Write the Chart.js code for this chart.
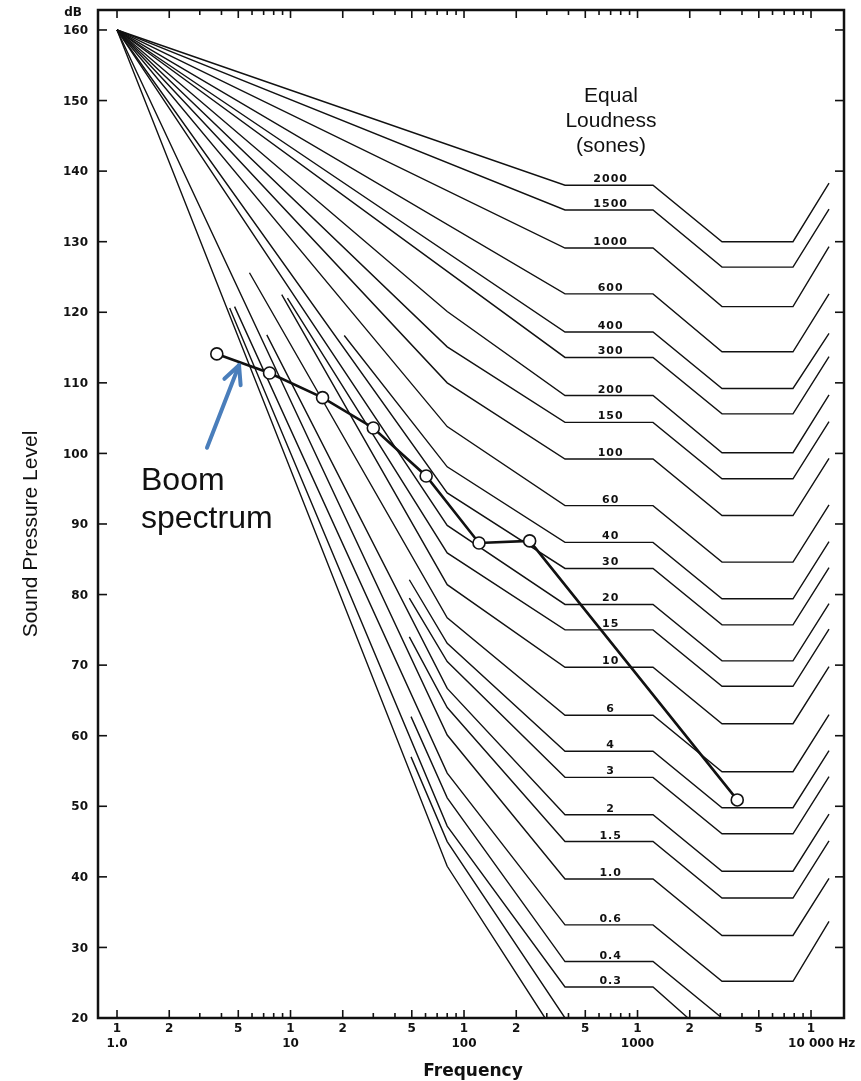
<!DOCTYPE html>
<html>
<head>
<meta charset="utf-8">
<script src="https://cdn.jsdelivr.net/npm/chart.js@4.4.1/dist/chart.umd.min.js"></script>
<style>
  body { margin: 0; background: #fff; }
  canvas { display: block; }
</style>
</head>
<body>
<canvas id="chart" width="861" height="1081"></canvas>
<script>
// equal loudness contours (dB at each break point)
var sones   = ['2000','1500','1000','600','400','300','200','150','100','60','40','30','20','15','10','6','4','3','2','1.5','1.0','0.6','0.4','0.3','',''];
var startHz = [1,1,1,1,1,1,1,1,1,1,20.4,1,1,9.6,8.9,5.8,48.4,48.4,7.3,48.4,1,4.76,49.5,4.46,49.5,1];
var startDb = [160,160,160,160,160,160,160,160,160,160,116.7,160,160,122.0,122.5,125.6,82.1,79.5,116.8,74.0,160,120.8,62.7,120.6,57.0,160];
var kinkDb  = [null,null,null,null,null,null,120.1,115.1,110.0,103.8,98.1,94.4,89.8,85.9,81.4,76.7,73.1,70.5,66.7,64.0,60.1,54.7,51.2,47.2,45.0,41.5];
var flatDb  = [138.0,134.5,129.1,122.6,117.2,113.6,108.2,104.4,99.2,92.6,87.4,83.7,78.6,75.0,69.7,62.9,57.8,54.1,48.8,45.0,39.7,33.2,28.0,24.4,null,null];
var dipDb   = [130.0,126.4,120.8,114.4,109.2,105.6,100.1,96.4,91.2,84.6,79.4,75.7,70.6,67.0,61.7,54.9,49.8,46.1,40.8,37.0,31.7,25.2,null,null,null,null];
var endDb   = [138.3,134.6,129.3,122.6,117.0,113.7,108.3,104.5,99.3,92.7,87.5,83.8,78.7,75.1,69.8,63.0,57.9,54.2,48.9,45.1,39.8,33.7,null,null,null,null];
// where the lowest lines run into the 20 dB floor
var floorHz = [null,null,null,null,null,null,null,null,null,null,null,null,null,null,null,null,null,null,null,null,null,null,3069,1954,382,293];
// break frequencies shared by all contours
var bendHz  = [80, 382, 1228, 3069, 7870, 12700];

// sonic boom spectrum
var boomHz = [3.76, 7.57, 15.3, 30.0, 60.5, 122, 239, 3756];
var boomDb = [114.1, 111.4, 107.9, 103.6, 96.8, 87.3, 87.6, 50.9];

// axes
var yTicks = [20,30,40,50,60,70,80,90,100,110,120,130,140,150,160];
var xMajorHz = [1,2,5,10,20,50,100,200,500,1000,2000,5000,10000];
var xMajorText = ['1','2','5','1','2','5','1','2','5','1','2','5','1'];
var xMinorHz = [3,4,6,7,8,9,30,40,60,70,80,90,300,400,600,700,800,900,3000,4000,6000,7000,8000,9000];
var decadeHz = [1,10,100,1000,10000];
var decadeText = ['1.0','10','100','1000','10 000'];

var ink = '#111';

function contour(i) {
  var pts = [{x: startHz[i], y: startDb[i]}];
  if (kinkDb[i] !== null) pts.push({x: bendHz[0], y: kinkDb[i]});
  if (flatDb[i] !== null) {
    pts.push({x: bendHz[1], y: flatDb[i]});
    pts.push({x: bendHz[2], y: flatDb[i]});
  }
  if (dipDb[i] !== null) {
    pts.push({x: bendHz[3], y: dipDb[i]});
    pts.push({x: bendHz[4], y: dipDb[i]});
    pts.push({x: bendHz[5], y: endDb[i]});
  }
  if (floorHz[i] !== null) pts.push({x: floorHz[i], y: 20});
  return pts;
}

var datasets = [];
for (var i = 0; i < sones.length; i++) {
  datasets.push({
    data: contour(i),
    showLine: true,
    borderColor: ink,
    borderWidth: 1.4,
    pointRadius: 0,
    order: 1
  });
}
datasets.push({
  data: boomHz.map(function (f, k) { return {x: f, y: boomDb[k]}; }),
  showLine: true,
  borderColor: ink,
  borderWidth: 2.6,
  pointRadius: 6,
  pointBackgroundColor: '#fff',
  pointBorderColor: ink,
  pointBorderWidth: 1.6,
  order: -1
});

function seg(ctx, x1, y1, x2, y2) {
  ctx.beginPath(); ctx.moveTo(x1, y1); ctx.lineTo(x2, y2); ctx.stroke();
}

var decor = {
  id: 'decor',
  afterDraw: function (chart) {
    var ctx = chart.ctx, a = chart.chartArea, x = chart.scales.x, y = chart.scales.y;
    ctx.save();
    ctx.strokeStyle = ink;
    ctx.fillStyle = ink;

    // frame
    ctx.lineWidth = 2.5;
    ctx.strokeRect(a.left, a.top, a.right - a.left, a.bottom - a.top);

    // y ticks + labels
    ctx.lineWidth = 1.6;
    ctx.font = 'bold 12px "DejaVu Sans"';
    ctx.textAlign = 'right';
    ctx.textBaseline = 'middle';
    yTicks.forEach(function (v) {
      var py = y.getPixelForValue(v);
      seg(ctx, a.left, py, a.left + 9, py);
      seg(ctx, a.right, py, a.right - 9, py);
      ctx.fillText(String(v), a.left - 10, py + 1);
    });
    ctx.textAlign = 'center';
    ctx.fillText('dB', 73, 13);

    // x ticks
    xMajorHz.forEach(function (f, k) {
      var px = x.getPixelForValue(f);
      seg(ctx, px, a.bottom, px, a.bottom - 8);
      seg(ctx, px, a.top, px, a.top + 8);
      ctx.fillText(xMajorText[k], px, a.bottom + 11);
    });
    xMinorHz.forEach(function (f) {
      var px = x.getPixelForValue(f);
      seg(ctx, px, a.bottom, px, a.bottom - 5);
      seg(ctx, px, a.top, px, a.top + 5);
    });
    decadeHz.forEach(function (f, k) {
      var px = x.getPixelForValue(f);
      if (k === decadeHz.length - 1) {
        ctx.textAlign = 'left';
        var w = ctx.measureText(decadeText[k]).width;
        ctx.fillText(decadeText[k] + ' Hz', px - w / 2, a.bottom + 26);
        ctx.textAlign = 'center';
      } else {
        ctx.fillText(decadeText[k], px, a.bottom + 26);
      }
    });

    ctx.font = 'bold 17px "DejaVu Sans"';
    ctx.fillText('Frequency', 473, 1072);

    // sone labels
    ctx.font = 'bold 11px "DejaVu Sans"';
    ctx.textBaseline = 'alphabetic';
    ctx.letterSpacing = '1px';
    sones.forEach(function (s, k) {
      if (!s || flatDb[k] === null) return;
      ctx.fillText(s, x.getPixelForValue(700), y.getPixelForValue(flatDb[k]) - 3);
    });
    ctx.letterSpacing = '0px';

    // annotations
    ctx.font = '21px "Liberation Sans", Arial, sans-serif';
    ctx.fillText('Equal', x.getPixelForValue(703), y.getPixelForValue(149.8));
    ctx.fillText('Loudness', x.getPixelForValue(703), y.getPixelForValue(146.25));
    ctx.fillText('(sones)', x.getPixelForValue(703), y.getPixelForValue(142.7));

    ctx.textAlign = 'left';
    ctx.font = '32px "Liberation Sans", Arial, sans-serif';
    ctx.fillText('Boom', x.getPixelForValue(1.375), y.getPixelForValue(94.8));
    ctx.fillText('spectrum', x.getPixelForValue(1.375), y.getPixelForValue(89.4));

    // arrow pointing at the spectrum
    var tx = x.getPixelForValue(3.30), ty = y.getPixelForValue(100.8);
    var hx = x.getPixelForValue(5.05), hy = y.getPixelForValue(112.5);
    var ang = Math.atan2(hy - ty, hx - tx);
    ctx.strokeStyle = '#4a7ebb';
    ctx.lineWidth = 4;
    ctx.lineCap = 'round';
    seg(ctx, tx, ty, hx, hy);
    seg(ctx, hx, hy, hx - 20 * Math.cos(ang - 0.45), hy - 20 * Math.sin(ang - 0.45));
    seg(ctx, hx, hy, hx - 20 * Math.cos(ang + 0.45), hy - 20 * Math.sin(ang + 0.45));

    // y axis title
    ctx.fillStyle = ink;
    ctx.translate(31, 534);
    ctx.rotate(-Math.PI / 2);
    ctx.textAlign = 'center';
    ctx.textBaseline = 'middle';
    ctx.font = '21px "Liberation Sans", Arial, sans-serif';
    ctx.fillText('Sound Pressure Level', 0, 0);
    ctx.restore();
  }
};

new Chart(document.getElementById('chart'), {
  type: 'scatter',
  data: { datasets: datasets },
  options: {
    responsive: false,
    animation: false,
    layout: { padding: { left: 98, right: 17, top: 10, bottom: 63 } },
    scales: {
      x: { type: 'logarithmic', min: 0.777, max: 15490, display: false },
      y: { type: 'linear', min: 20, max: 162.83, display: false }
    },
    plugins: { legend: { display: false }, tooltip: { enabled: false } },
    elements: { line: { tension: 0 } }
  },
  plugins: [decor]
});
</script>
</body>
</html>
